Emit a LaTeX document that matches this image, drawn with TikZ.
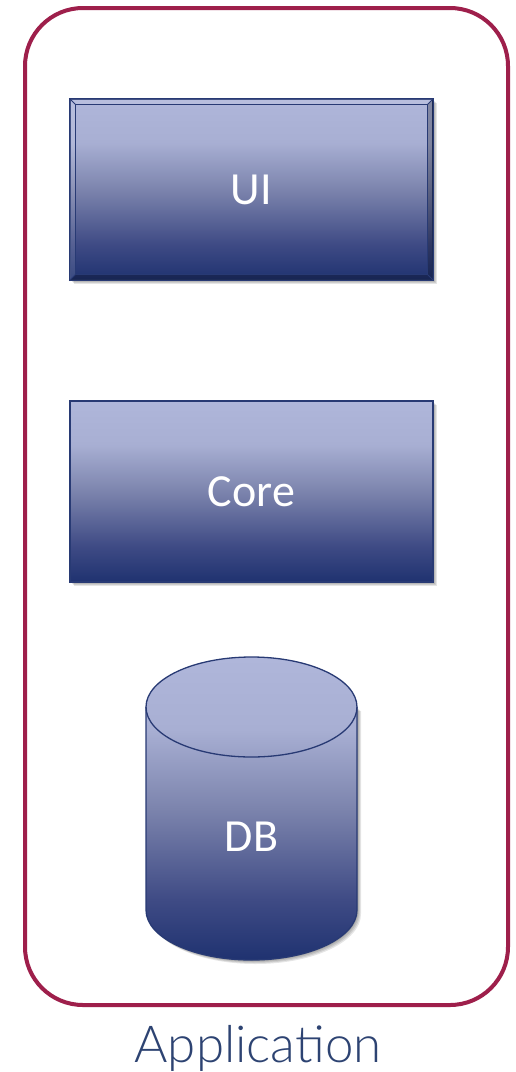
\documentclass[tikz,border=0pt]{standalone}
\usepackage{fontspec}
\setmainfont{Carlito}
\IfFontExistsTF{Lato Light}{\newfontfamily\appfont{Lato Light}}{\newfontfamily\appfont{Lato}}
\definecolor{framecol}{HTML}{9E1F4B}
\definecolor{boxtop}{HTML}{AFB6DA}
\definecolor{boxhi}{HTML}{A8AFD3}
\definecolor{boxmid}{HTML}{7C84AD}
\definecolor{boxlo}{HTML}{3F4B85}
\definecolor{boxbot}{HTML}{1F3270}
\definecolor{edgecol}{HTML}{283A74}
\definecolor{labelcol}{HTML}{2D4372}
\pgfdeclareverticalshading{boxshade}{100bp}{color(0bp)=(boxbot); color(25bp)=(boxbot); color(35bp)=(boxlo); color(50bp)=(boxmid); color(63bp)=(boxhi); color(75bp)=(boxtop); color(100bp)=(boxtop)}
\tikzset{
  frame/.style={draw=framecol, line width=4pt, rounded corners=58pt},
  box/.style={shading=boxshade, draw=edgecol, line width=1.3pt,
    minimum width=363pt, minimum height=181pt, inner sep=0pt, text=white,
    font=\fontsize{46}{50}\selectfont},
  shadowfill/.style={fill=black, opacity=0.10},
  applabel/.style={text=labelcol, font=\appfont\fontsize{51}{56}\selectfont, inner sep=0pt, anchor=base},
  dblabel/.style={text=white, font=\fontsize{46}{50}\selectfont, inner sep=0pt},
  edge/.style={draw=edgecol, line width=1.3pt},
}
\begin{document}
\begin{tikzpicture}[x=1pt,y=-1pt]
\useasboundingbox (0,0) rectangle (516,1072);
\fill[white] (0,0) rectangle (516,1072);
% frame
\draw[frame] (25,8) rectangle (508,1005);
% shadows
\foreach \s in {1,2,3,4}{
  \fill[shadowfill] (70+\s,99+\s) rectangle (433+\s,280+\s);
  \fill[shadowfill] (70+\s,401+\s) rectangle (433+\s,582+\s);
}
% UI box (bevelled)
\node[box] (ui) at (251.5,189.5) {};
\fill[white, opacity=0.12] (ui.north west) -- (ui.north east) -- ([shift={(-6pt,-6pt)}]ui.north east) -- ([shift={(6pt,-6pt)}]ui.north west) -- cycle;
\fill[white, opacity=0.12] (ui.north west) -- ([shift={(6pt,-6pt)}]ui.north west) -- ([shift={(6pt,6pt)}]ui.south west) -- (ui.south west) -- cycle;
\fill[black, opacity=0.25] (ui.north east) -- (ui.south east) -- ([shift={(-6pt,6pt)}]ui.south east) -- ([shift={(-6pt,-6pt)}]ui.north east) -- cycle;
\fill[black, opacity=0.25] (ui.south west) -- (ui.south east) -- ([shift={(-6pt,6pt)}]ui.south east) -- ([shift={(6pt,6pt)}]ui.south west) -- cycle;
\draw[edge] ([shift={(6pt,-6pt)}]ui.north west) rectangle ([shift={(-6pt,6pt)}]ui.south east);
\draw[edgecol, line width=1pt] (ui.north west) -- ([shift={(6pt,-6pt)}]ui.north west)
  (ui.north east) -- ([shift={(-6pt,-6pt)}]ui.north east)
  (ui.south west) -- ([shift={(6pt,6pt)}]ui.south west)
  (ui.south east) -- ([shift={(-6pt,6pt)}]ui.south east);
\draw[edge] (ui.north west) rectangle (ui.south east);
\node[dblabel] (uilabel) at (ui.center) {UI};
% Core box
\node[box] (core) at (251.5,491.5) {Core};
% DB cylinder
\foreach \s in {1,2,3,4}{
  \fill[shadowfill] (146+\s,707+\s) -- (146+\s,910+\s) arc[start angle=180, end angle=360, x radius=105.5pt, y radius=50pt] -- (357+\s,707+\s) -- cycle;
}
\path[shading=boxshade, edge]
  (146,707) -- (146,910) arc[start angle=180, end angle=360, x radius=105.5pt, y radius=50pt]
  -- (357,707) arc[start angle=0, end angle=180, x radius=105.5pt, y radius=50pt] -- cycle;
\draw[edge] (146,707) arc[start angle=180, end angle=360, x radius=105.5pt, y radius=50pt];
\node[dblabel] (db) at (251.5,836.5) {DB};
% label
\node[applabel] (app) at (258,1062) {Application};
\end{tikzpicture}
\end{document}
